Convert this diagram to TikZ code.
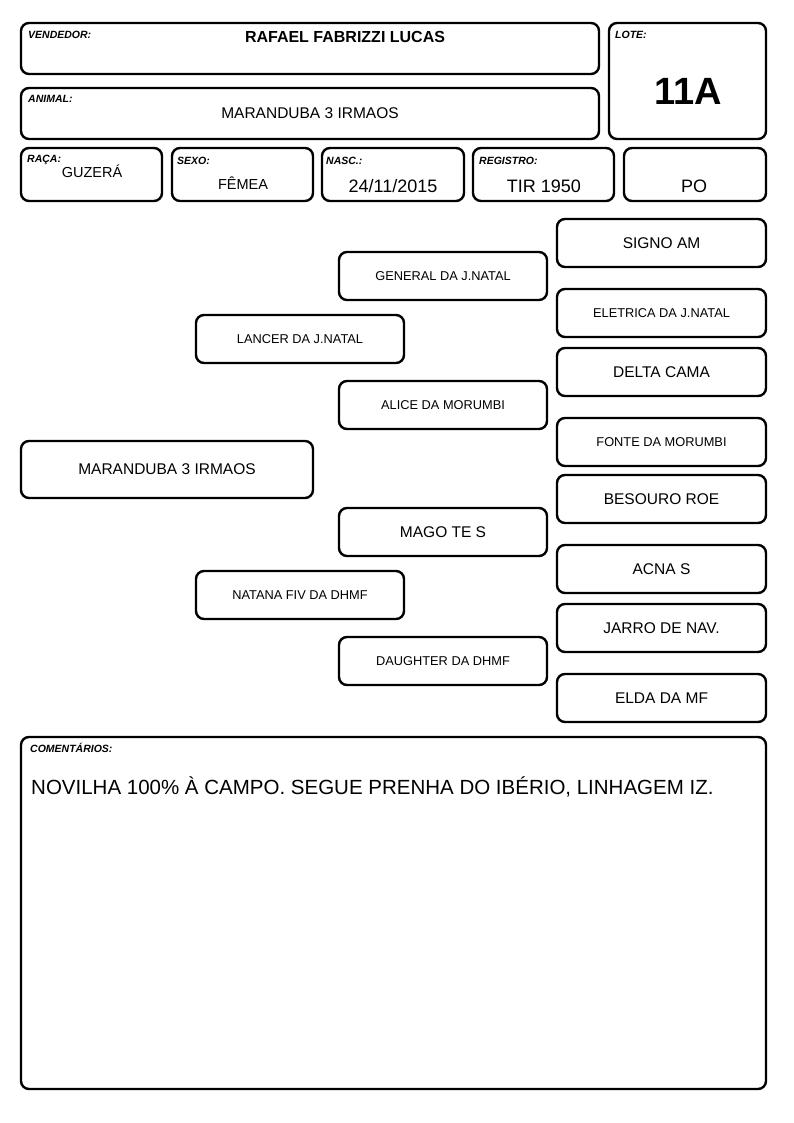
\documentclass[tikz,border=0pt]{standalone}
\usepackage{fontspec}
\setmainfont{Liberation Sans}
\begin{document}
\begin{tikzpicture}[x=1pt,y=-1pt,
  box/.style={draw=black,line width=2.4pt,rounded corners=8pt,fill=white,inner sep=0pt},
  lbl/.style={anchor=base west,inner sep=0pt,font=\fontsize{10.5}{12}\selectfont\bfseries\itshape},
  val/.style={anchor=base,inner sep=0pt},
  ped/.style={inner sep=0pt,font=\fontsize{12.8}{15}\selectfont},
  pedl/.style={inner sep=0pt,font=\fontsize{15.5}{18}\selectfont}]
\useasboundingbox (0,0) rectangle (794,1123);
% header boxes
\draw[box] (21,23) rectangle (599,74);
\draw[box] (609,23) rectangle (766,139);
\draw[box] (21,88) rectangle (599,139);
\draw[box] (21,148) rectangle (162,201);
\draw[box] (172,148) rectangle (313,201);
\draw[box] (322,148) rectangle (464,201);
\draw[box] (473,148) rectangle (614,201);
\draw[box] (624,148) rectangle (766,201);
% labels
\node[lbl] (lvend) at (28,39) {VENDEDOR:};
\node[lbl] (llote) at (615,39) {LOTE:};
\node[lbl] (lanim) at (28,103) {ANIMAL:};
\node[lbl] (lraca) at (27,163) {RAÇA:};
\node[lbl] (lsexo) at (177,165) {SEXO:};
\node[lbl] (lnasc) at (326,165) {NASC.:};
\node[lbl] (lreg) at (479,165) {REGISTRO:};
% values
\node[val,font=\fontsize{16}{19}\selectfont\bfseries] (vvend) at (345,42.5) {RAFAEL FABRIZZI LUCAS};
\node[val,font=\fontsize{38}{44}\selectfont\bfseries] (vlote) at (688,105) {11A};
\node[val,font=\fontsize{15.5}{18}\selectfont] (vanim) at (310,118.5) {MARANDUBA 3 IRMAOS};
\node[val,font=\fontsize{14.5}{17}\selectfont] (vraca) at (92,177.5) {GUZERÁ};
\node[val,font=\fontsize{14.5}{17}\selectfont] (vsexo) at (243,189.5) {FÊMEA};
\node[val,font=\fontsize{18}{21}\selectfont] (vnasc) at (393,193) {24/11/2015};
\node[val,font=\fontsize{18}{21}\selectfont] (vreg) at (544,193) {TIR 1950};
\node[val,font=\fontsize{18}{21}\selectfont] (vpo) at (694,193) {PO};
% pedigree
\draw[box] (21,441) rectangle (313,498) node[midway,pedl] (p0) {MARANDUBA 3 IRMAOS};
\draw[box] (196,315) rectangle (404,363) node[midway,ped] (p1) {LANCER DA J.NATAL};
\draw[box] (196,571) rectangle (404,619) node[midway,ped] (p2) {NATANA FIV DA DHMF};
\draw[box] (339,252) rectangle (547,300) node[midway,ped] (p3) {GENERAL DA J.NATAL};
\draw[box] (339,381) rectangle (547,429) node[midway,ped] (p4) {ALICE DA MORUMBI};
\draw[box] (339,508) rectangle (547,556) node[midway,pedl] (p5) {MAGO TE S};
\draw[box] (339,637) rectangle (547,685) node[midway,ped] (p6) {DAUGHTER DA DHMF};
\draw[box] (557,219) rectangle (766,267) node[midway,pedl] (p7) {SIGNO AM};
\draw[box] (557,289) rectangle (766,337) node[midway,ped] (p8) {ELETRICA DA J.NATAL};
\draw[box] (557,348) rectangle (766,396) node[midway,pedl] (p9) {DELTA CAMA};
\draw[box] (557,418) rectangle (766,466) node[midway,ped] (p10) {FONTE DA MORUMBI};
\draw[box] (557,475) rectangle (766,523) node[midway,pedl] (p11) {BESOURO ROE};
\draw[box] (557,545) rectangle (766,593) node[midway,pedl] (p12) {ACNA S};
\draw[box] (557,604) rectangle (766,652) node[midway,pedl] (p13) {JARRO DE NAV.};
\draw[box] (557,674) rectangle (766,722) node[midway,pedl] (p14) {ELDA DA MF};
% comments
\draw[box] (21,737) rectangle (766,1089);
\node[lbl] (lcom) at (30,752) {COMENTÁRIOS:};
\node[anchor=base west,inner sep=0pt,font=\fontsize{20.5}{24}\selectfont] (vcom) at (31,794) {NOVILHA 100\% À CAMPO. SEGUE PRENHA DO IBÉRIO, LINHAGEM IZ.};
\end{tikzpicture}
\end{document}
